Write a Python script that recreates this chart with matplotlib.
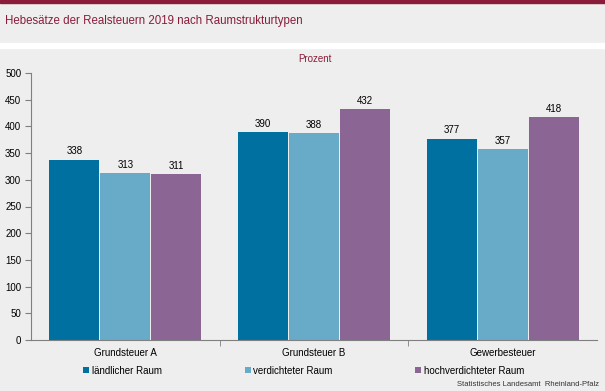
import numpy as np
import matplotlib.pyplot as plt
from matplotlib.patches import Rectangle

categories = ['Grundsteuer A', 'Grundsteuer B', 'Gewerbesteuer']
series_names = ['ländlicher Raum', 'verdichteter Raum', 'hochverdichteter Raum']
laendlich = [338, 390, 377]
verdichtet = [313, 388, 357]
hochverdichtet = [311, 432, 418]
colors = ['#0070a0', '#67abc9', '#8b6694']

plt.rcParams['font.family'] = ['Liberation Sans', 'DejaVu Sans']

bg = '#edeeed'
dark_red = '#8a1c3a'

fig = plt.figure(figsize=(6.05, 3.91), dpi=100, facecolor=bg)

# top border and white separator between title and chart
fig.add_artist(Rectangle((0, 1 - 3 / 391), 1, 3 / 391, transform=fig.transFigure,
                         color=dark_red, zorder=0))
fig.add_artist(Rectangle((0, 1 - 48 / 391), 1, 5 / 391, transform=fig.transFigure,
                         color='white', zorder=0))
fig.text(5 / 605, 1 - 21 / 391, 'Hebesätze der Realsteuern 2019 nach Raumstrukturtypen',
         color=dark_red, fontsize=8.3, va='center', ha='left')
fig.text(0.52, 1 - 59 / 391, 'Prozent', color=dark_red, fontsize=7, ha='center', va='center')

ax = fig.add_axes([31 / 605, 1 - 340 / 391, (597 - 31) / 605, (340 - 73) / 391])
ax.set_facecolor(bg)

x = np.arange(len(categories))
w = 0.265
for i, (vals, name) in enumerate(zip([laendlich, verdichtet, hochverdichtet], series_names)):
    pos = x + (i - 1) * (w + 0.005)
    bars = ax.bar(pos, vals, width=w, color=colors[i], label=name, edgecolor='none')
    for b, v in zip(bars, vals):
        ax.text(b.get_x() + b.get_width() / 2, v + 6, str(v), ha='center', va='bottom',
                fontsize=7, color='black')

ax.set_xlim(-0.5, 2.5)
ax.set_ylim(0, 500)
ax.set_yticks(range(0, 501, 50))
ax.set_xticks(x)
ax.set_xticklabels(categories)
ax.set_xticks([0.5, 1.5], minor=True)
ax.tick_params(axis='x', which='major', length=0, labelsize=7, pad=6)
ax.tick_params(axis='x', which='minor', length=4, color='#808080', direction='out')
ax.tick_params(axis='y', length=4, color='#808080', labelsize=7, pad=3)
for s in ['top', 'right']:
    ax.spines[s].set_visible(False)
ax.spines['left'].set_color('#808080')
ax.spines['bottom'].set_color('#808080')

ax.legend(loc='upper left', bbox_to_anchor=(0.077, -0.063), ncol=3, frameon=False,
          fontsize=7, handlelength=0.6, handleheight=0.6, handletextpad=0.3,
          columnspacing=8.5)

fig.text(1 - 6 / 605, 1 - 385 / 391, 'Statistisches Landesamt  Rheinland-Pfalz',
         fontsize=5.5, ha='right', va='center', color='#333333')

fig.savefig('out.png', dpi=100, facecolor=bg)
